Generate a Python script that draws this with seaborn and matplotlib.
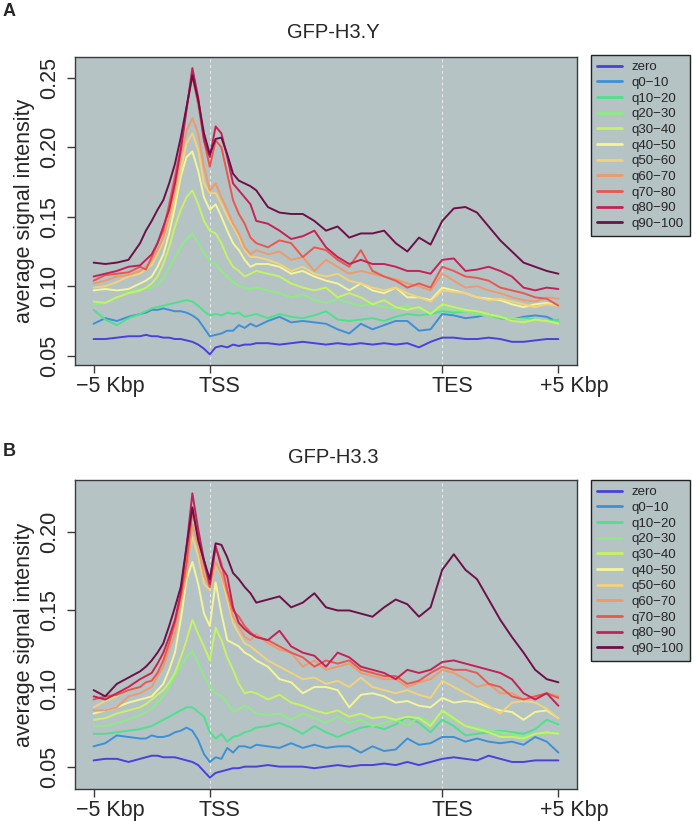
import numpy as np
import pandas as pd
import matplotlib
matplotlib.use('Agg')
import matplotlib.pyplot as plt
import matplotlib.transforms as mtrans
import seaborn as sns

# bin positions: 0 = -5 Kbp, 1 = TSS, 3 = TES, 4 = +5 Kbp
pos = [0.0, 0.1, 0.2, 0.3, 0.4, 0.45, 0.5, 0.55, 0.6, 0.65,
       0.7, 0.75, 0.8, 0.85, 0.9, 0.95, 1.0, 1.05, 1.1, 1.15,
       1.2, 1.25, 1.3, 1.35, 1.4, 1.5, 1.6, 1.7, 1.8, 1.9,
       2.0, 2.1, 2.2, 2.3, 2.4, 2.5, 2.6, 2.7, 2.8, 2.9,
       3.0, 3.1, 3.2, 3.3, 3.4, 3.5, 3.6, 3.7, 3.8, 3.9, 4.0]

groups = ['zero', 'q0−10', 'q10−20', 'q20−30', 'q30−40', 'q40−50',
          'q50−60', 'q60−70', 'q70−80', 'q80−90', 'q90−100']
colors = ['#4a40dc', '#3e90d6', '#50e08c', '#8fea86', '#c6f364', '#f3f597',
          '#f2d27c', '#ef9a6c', '#ec5650', '#c42256', '#6e1048']

tick_pos = [0, 1, 3, 4]
tick_lab = ['−5 Kbp', 'TSS', 'TES', '+5 Kbp']

# ---- panel A : GFP-H3.Y ----
a_zero = [0.062, 0.062, 0.063, 0.064, 0.064, 0.065, 0.064, 0.064, 0.063, 0.063,
          0.062, 0.062, 0.061, 0.060, 0.058, 0.055, 0.051, 0.056, 0.057, 0.056,
          0.058, 0.057, 0.058, 0.058, 0.059, 0.059, 0.058, 0.059, 0.060, 0.059,
          0.058, 0.059, 0.058, 0.059, 0.058, 0.059, 0.058, 0.059, 0.056, 0.060,
          0.063, 0.063, 0.062, 0.062, 0.063, 0.062, 0.060, 0.060, 0.061, 0.062, 0.062]
a_q0 = [0.073, 0.077, 0.075, 0.078, 0.080, 0.081, 0.083, 0.083, 0.084, 0.083,
        0.082, 0.082, 0.081, 0.079, 0.076, 0.070, 0.064, 0.065, 0.066, 0.068,
        0.068, 0.072, 0.070, 0.073, 0.071, 0.075, 0.078, 0.074, 0.075, 0.074,
        0.073, 0.069, 0.066, 0.073, 0.069, 0.072, 0.075, 0.075, 0.068, 0.069,
        0.080, 0.079, 0.077, 0.078, 0.080, 0.077, 0.076, 0.078, 0.079, 0.078, 0.074]
a_q10 = [0.083, 0.076, 0.072, 0.077, 0.080, 0.082, 0.084, 0.085, 0.086, 0.087,
         0.088, 0.089, 0.090, 0.089, 0.086, 0.082, 0.079, 0.080, 0.079, 0.081,
         0.080, 0.081, 0.078, 0.079, 0.080, 0.077, 0.080, 0.078, 0.077, 0.079,
         0.082, 0.076, 0.075, 0.076, 0.077, 0.075, 0.078, 0.080, 0.079, 0.080,
         0.082, 0.081, 0.082, 0.080, 0.079, 0.077, 0.076, 0.077, 0.076, 0.075, 0.076]
a_q20 = [0.087, 0.088, 0.092, 0.096, 0.098, 0.098, 0.099, 0.101, 0.106, 0.113,
         0.121, 0.128, 0.134, 0.138, 0.131, 0.124, 0.118, 0.116, 0.111, 0.107,
         0.103, 0.100, 0.099, 0.098, 0.099, 0.097, 0.095, 0.092, 0.094, 0.090,
         0.088, 0.091, 0.088, 0.086, 0.087, 0.085, 0.084, 0.086, 0.083, 0.081,
         0.085, 0.083, 0.082, 0.080, 0.079, 0.078, 0.077, 0.076, 0.075, 0.075, 0.074]
a_q30 = [0.089, 0.088, 0.092, 0.095, 0.097, 0.099, 0.102, 0.107, 0.116, 0.128,
         0.143, 0.155, 0.164, 0.169, 0.159, 0.147, 0.140, 0.138, 0.131, 0.121,
         0.114, 0.111, 0.107, 0.109, 0.111, 0.109, 0.107, 0.102, 0.099, 0.097,
         0.099, 0.092, 0.095, 0.092, 0.087, 0.090, 0.085, 0.083, 0.085, 0.080,
         0.087, 0.085, 0.083, 0.082, 0.080, 0.078, 0.075, 0.074, 0.076, 0.075, 0.073]
a_q40 = [0.097, 0.098, 0.097, 0.098, 0.102, 0.104, 0.107, 0.114, 0.123, 0.138,
         0.157, 0.179, 0.193, 0.197, 0.183, 0.164, 0.155, 0.159, 0.150, 0.140,
         0.131, 0.126, 0.119, 0.114, 0.116, 0.116, 0.114, 0.109, 0.111, 0.107,
         0.104, 0.102, 0.097, 0.102, 0.097, 0.095, 0.099, 0.092, 0.092, 0.090,
         0.099, 0.097, 0.095, 0.092, 0.091, 0.090, 0.087, 0.085, 0.087, 0.088, 0.086]
a_q50 = [0.099, 0.100, 0.103, 0.107, 0.109, 0.112, 0.115, 0.123, 0.133, 0.147,
         0.164, 0.183, 0.203, 0.210, 0.198, 0.174, 0.167, 0.167, 0.159, 0.150,
         0.143, 0.135, 0.126, 0.121, 0.121, 0.119, 0.116, 0.111, 0.114, 0.109,
         0.107, 0.109, 0.104, 0.102, 0.099, 0.097, 0.099, 0.095, 0.092, 0.089,
         0.097, 0.096, 0.095, 0.092, 0.090, 0.091, 0.089, 0.087, 0.085, 0.087, 0.086]
a_q60 = [0.102, 0.104, 0.107, 0.108, 0.111, 0.114, 0.119, 0.126, 0.135, 0.150,
         0.169, 0.193, 0.212, 0.221, 0.210, 0.186, 0.169, 0.174, 0.164, 0.155,
         0.145, 0.138, 0.128, 0.123, 0.126, 0.123, 0.125, 0.119, 0.121, 0.111,
         0.119, 0.114, 0.109, 0.111, 0.109, 0.107, 0.105, 0.102, 0.100, 0.097,
         0.109, 0.104, 0.099, 0.100, 0.097, 0.095, 0.092, 0.090, 0.089, 0.092, 0.091]
a_q70 = [0.104, 0.108, 0.109, 0.110, 0.114, 0.112, 0.121, 0.131, 0.140, 0.159,
         0.179, 0.200, 0.229, 0.251, 0.231, 0.205, 0.186, 0.205, 0.200, 0.181,
         0.162, 0.152, 0.145, 0.135, 0.131, 0.128, 0.133, 0.131, 0.121, 0.128,
         0.126, 0.119, 0.114, 0.126, 0.111, 0.107, 0.104, 0.099, 0.102, 0.099,
         0.114, 0.111, 0.107, 0.106, 0.104, 0.099, 0.097, 0.095, 0.092, 0.091, 0.086]
a_q80 = [0.107, 0.109, 0.111, 0.114, 0.115, 0.119, 0.123, 0.131, 0.143, 0.155,
         0.174, 0.198, 0.227, 0.257, 0.236, 0.205, 0.193, 0.215, 0.210, 0.193,
         0.174, 0.169, 0.164, 0.159, 0.147, 0.145, 0.140, 0.134, 0.136, 0.140,
         0.128, 0.121, 0.116, 0.119, 0.116, 0.116, 0.114, 0.111, 0.111, 0.109,
         0.119, 0.120, 0.111, 0.112, 0.114, 0.111, 0.107, 0.099, 0.097, 0.099, 0.098]
a_q90 = [0.117, 0.116, 0.117, 0.119, 0.131, 0.140, 0.147, 0.155, 0.162, 0.174,
         0.188, 0.207, 0.229, 0.252, 0.234, 0.210, 0.195, 0.206, 0.207, 0.195,
         0.181, 0.176, 0.174, 0.172, 0.169, 0.157, 0.153, 0.152, 0.152, 0.147,
         0.140, 0.143, 0.135, 0.138, 0.138, 0.140, 0.131, 0.125, 0.135, 0.130,
         0.147, 0.156, 0.157, 0.153, 0.143, 0.133, 0.125, 0.117, 0.114, 0.111, 0.109]

# ---- panel B : GFP-H3.3 ----
b_zero = [0.054, 0.055, 0.055, 0.053, 0.055, 0.056, 0.057, 0.057, 0.056, 0.056,
          0.056, 0.055, 0.054, 0.053, 0.051, 0.047, 0.043, 0.046, 0.047, 0.048,
          0.049, 0.049, 0.050, 0.050, 0.050, 0.051, 0.050, 0.050, 0.050, 0.049,
          0.050, 0.051, 0.050, 0.051, 0.051, 0.052, 0.051, 0.053, 0.051, 0.053,
          0.055, 0.056, 0.055, 0.054, 0.057, 0.055, 0.053, 0.053, 0.054, 0.054, 0.054]
b_q0 = [0.063, 0.065, 0.070, 0.069, 0.068, 0.068, 0.070, 0.069, 0.069, 0.070,
        0.072, 0.073, 0.075, 0.073, 0.067, 0.058, 0.053, 0.056, 0.055, 0.062,
        0.059, 0.063, 0.063, 0.062, 0.064, 0.063, 0.062, 0.065, 0.062, 0.064,
        0.062, 0.063, 0.063, 0.059, 0.063, 0.060, 0.061, 0.068, 0.064, 0.065,
        0.069, 0.069, 0.066, 0.068, 0.066, 0.065, 0.066, 0.064, 0.069, 0.066, 0.059]
b_q10 = [0.071, 0.071, 0.072, 0.073, 0.074, 0.075, 0.076, 0.078, 0.080, 0.082,
         0.084, 0.086, 0.088, 0.088, 0.085, 0.082, 0.072, 0.068, 0.071, 0.066,
         0.069, 0.070, 0.072, 0.073, 0.075, 0.076, 0.078, 0.075, 0.071, 0.076,
         0.072, 0.069, 0.072, 0.075, 0.076, 0.074, 0.077, 0.082, 0.078, 0.072,
         0.080, 0.076, 0.070, 0.071, 0.072, 0.073, 0.072, 0.071, 0.074, 0.080, 0.077]
b_q20 = [0.076, 0.076, 0.078, 0.080, 0.083, 0.085, 0.087, 0.091, 0.095, 0.101,
         0.108, 0.114, 0.120, 0.124, 0.116, 0.108, 0.101, 0.097, 0.095, 0.091,
         0.085, 0.087, 0.089, 0.087, 0.084, 0.083, 0.084, 0.080, 0.084, 0.081,
         0.078, 0.082, 0.078, 0.080, 0.076, 0.078, 0.080, 0.076, 0.082, 0.078,
         0.084, 0.080, 0.076, 0.075, 0.073, 0.072, 0.071, 0.069, 0.071, 0.071, 0.072]
b_q30 = [0.080, 0.081, 0.084, 0.086, 0.088, 0.090, 0.093, 0.096, 0.099, 0.104,
         0.110, 0.120, 0.131, 0.144, 0.135, 0.127, 0.118, 0.139, 0.131, 0.120,
         0.112, 0.103, 0.097, 0.098, 0.097, 0.093, 0.096, 0.091, 0.089, 0.086,
         0.084, 0.086, 0.082, 0.084, 0.081, 0.082, 0.080, 0.082, 0.081, 0.076,
         0.086, 0.081, 0.076, 0.074, 0.072, 0.069, 0.069, 0.068, 0.071, 0.072, 0.071]
b_q40 = [0.084, 0.086, 0.088, 0.091, 0.093, 0.094, 0.095, 0.099, 0.103, 0.112,
         0.123, 0.144, 0.170, 0.181, 0.167, 0.148, 0.140, 0.168, 0.148, 0.131,
         0.129, 0.127, 0.123, 0.121, 0.118, 0.114, 0.106, 0.104, 0.097, 0.101,
         0.101, 0.099, 0.088, 0.096, 0.097, 0.095, 0.091, 0.092, 0.089, 0.088,
         0.094, 0.091, 0.092, 0.091, 0.088, 0.086, 0.085, 0.080, 0.085, 0.086, 0.081]
b_q50 = [0.088, 0.092, 0.095, 0.101, 0.106, 0.108, 0.110, 0.116, 0.123, 0.133,
         0.144, 0.161, 0.182, 0.197, 0.185, 0.167, 0.163, 0.180, 0.172, 0.157,
         0.142, 0.135, 0.129, 0.127, 0.124, 0.118, 0.114, 0.110, 0.106, 0.107,
         0.103, 0.105, 0.101, 0.107, 0.101, 0.099, 0.097, 0.099, 0.096, 0.094,
         0.105, 0.101, 0.097, 0.093, 0.089, 0.084, 0.091, 0.092, 0.091, 0.087, 0.081]
b_q60 = [0.086, 0.086, 0.088, 0.095, 0.097, 0.099, 0.101, 0.108, 0.114, 0.125,
         0.135, 0.155, 0.174, 0.205, 0.191, 0.172, 0.165, 0.181, 0.173, 0.161,
         0.146, 0.140, 0.133, 0.131, 0.135, 0.129, 0.125, 0.123, 0.114, 0.118,
         0.112, 0.114, 0.116, 0.110, 0.108, 0.106, 0.106, 0.101, 0.104, 0.106,
         0.112, 0.110, 0.106, 0.101, 0.103, 0.097, 0.097, 0.093, 0.095, 0.097, 0.095]
b_q70 = [0.093, 0.095, 0.096, 0.099, 0.101, 0.104, 0.105, 0.110, 0.118, 0.129,
         0.142, 0.159, 0.180, 0.214, 0.197, 0.180, 0.165, 0.191, 0.180, 0.163,
         0.150, 0.146, 0.140, 0.136, 0.133, 0.131, 0.127, 0.123, 0.120, 0.114,
         0.118, 0.116, 0.118, 0.112, 0.110, 0.108, 0.108, 0.103, 0.105, 0.110,
         0.114, 0.112, 0.112, 0.110, 0.103, 0.101, 0.095, 0.093, 0.095, 0.097, 0.094]
b_q80 = [0.095, 0.093, 0.097, 0.101, 0.106, 0.108, 0.110, 0.116, 0.123, 0.133,
         0.144, 0.161, 0.191, 0.225, 0.202, 0.182, 0.167, 0.191, 0.178, 0.172,
         0.152, 0.142, 0.138, 0.135, 0.133, 0.131, 0.137, 0.127, 0.123, 0.121,
         0.114, 0.123, 0.120, 0.114, 0.112, 0.110, 0.106, 0.112, 0.110, 0.112,
         0.117, 0.118, 0.116, 0.114, 0.112, 0.110, 0.106, 0.097, 0.093, 0.097, 0.089]
b_q90 = [0.099, 0.095, 0.103, 0.107, 0.111, 0.114, 0.118, 0.123, 0.129, 0.140,
         0.152, 0.165, 0.191, 0.216, 0.195, 0.182, 0.170, 0.193, 0.192, 0.184,
         0.174, 0.170, 0.165, 0.161, 0.155, 0.157, 0.159, 0.152, 0.155, 0.161,
         0.152, 0.150, 0.150, 0.148, 0.146, 0.152, 0.157, 0.154, 0.146, 0.152,
         0.176, 0.186, 0.176, 0.170, 0.157, 0.144, 0.133, 0.123, 0.112, 0.106, 0.104]

panel_a = [a_zero, a_q0, a_q10, a_q20, a_q30, a_q40, a_q50, a_q60, a_q70, a_q80, a_q90]
panel_b = [b_zero, b_q0, b_q10, b_q20, b_q30, b_q40, b_q50, b_q60, b_q70, b_q80, b_q90]


def to_long(series):
    rows = []
    for g, vals in zip(groups, series):
        for p, v in zip(pos, vals):
            rows.append((g, p, v))
    return pd.DataFrame(rows, columns=['group', 'pos', 'signal'])


sns.set_theme(style='white')
plt.rcParams['font.family'] = ['Liberation Sans', 'DejaVu Sans']
bg = '#b5c3c5'
edge = '#3a3a3a'

fig = plt.figure(figsize=(6.92, 8.21), dpi=100)
axA = fig.add_axes([0.1084, 0.5554, 0.7254, 0.3752])
axB = fig.add_axes([0.1084, 0.0390, 0.7254, 0.3763])

setup = [
    (axA, panel_a, 'GFP-H3.Y', 'A', (0.0433, 0.265), [0.05, 0.10, 0.15, 0.20, 0.25], 55, 32, 12),
    (axB, panel_b, 'GFP-H3.3', 'B', (0.0357, 0.2335), [0.05, 0.10, 0.15, 0.20], 480, 457, 451),
]
# the tick labels of the reference sit a little right of their ticks (px)
label_shift = [17, 10, 10, 16]

for ax, series, title, letter, ylim, yt, leg_top, title_y, letter_y in setup:
    df = to_long(series)
    ax.set_facecolor(bg)
    ax.axvline(1, color='#eeeeee', lw=0.7, ls=(0, (3, 3)), zorder=1)
    ax.axvline(3, color='#eeeeee', lw=0.7, ls=(0, (3, 3)), zorder=1)
    sns.lineplot(data=df, x='pos', y='signal', hue='group', hue_order=groups,
                 palette=dict(zip(groups, colors)), estimator=None, sort=False,
                 lw=1.4, ax=ax, zorder=3)
    ax.set_xlim(-0.16, 4.16)
    ax.set_ylim(*ylim)
    ax.set_xticks(tick_pos)
    ax.set_xticklabels(tick_lab, fontsize=15.5)
    ax.set_yticks(yt)
    ax.set_yticklabels([f'{v:.2f}' for v in yt], rotation=90, va='center', fontsize=15.5)
    ax.tick_params(axis='both', direction='out', length=6, width=1, color=edge,
                   left=True, bottom=True)
    ax.tick_params(axis='y', pad=5)
    ax.tick_params(axis='x', pad=2)
    for lab, dx in zip(ax.get_xticklabels(), label_shift):
        lab.set_transform(lab.get_transform() +
                          mtrans.ScaledTranslation(dx / 100, 0, fig.dpi_scale_trans))
    ax.set_xlabel('')
    ax.set_ylabel('average signal intensity', fontsize=15.5, labelpad=3)
    for s in ax.spines.values():
        s.set_visible(True)
        s.set_color(edge)
        s.set_linewidth(1)

    handles, labels = ax.get_legend_handles_labels()
    leg = ax.legend(handles, labels, loc='upper left',
                    bbox_to_anchor=(591 / 692, 1 - leg_top / 821),
                    bbox_transform=fig.transFigure, borderaxespad=0,
                    fontsize=9.5, handlelength=1.9, handletextpad=0.75,
                    labelspacing=0.26, borderpad=0.45, frameon=True,
                    fancybox=False, facecolor=bg, edgecolor='#222222', framealpha=1)
    leg.get_frame().set_linewidth(1)
    for ln in leg.get_lines():
        ln.set_linewidth(2)

    fig.text(333 / 692, 1 - title_y / 821, title, ha='center', va='center', fontsize=14.5)
    fig.text(0.004, 1 - letter_y / 821, letter, ha='left', va='center',
             fontsize=13, fontweight='bold')

fig.savefig('out.png', dpi=100)
